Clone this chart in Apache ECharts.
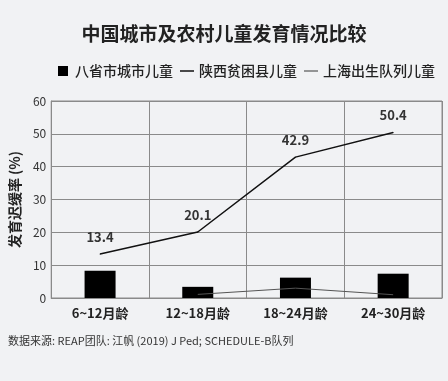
<!DOCTYPE html>
<html><head><meta charset="utf-8">
<script src="https://cdn.jsdelivr.net/npm/echarts@6/dist/echarts.min.js"></script>
<style>html,body{margin:0;padding:0;background:#f1f2f4;}#c{width:448px;height:381px;}</style>
</head><body><div id="c"></div>
<script>
var categories = ['6~12月龄', '12~18月龄', '18~24月龄', '24~30月龄'];
var urbanValues = [8.3, 3.4, 6.2, 7.4];
var shaanxiValues = [13.4, 20.1, 42.9, 50.4];
var shanghaiValues = ['-', 1.1, 3.0, 1.0];
var yTicks = {min: 0, max: 60, interval: 10};
var seriesNames = ['八省市城市儿童', '陕西贫困县儿童', '上海出生队列儿童'];

var FONT = '"Noto Sans CJK SC", "Noto Sans", sans-serif';
var chart = echarts.init(document.getElementById('c'), null, {renderer: 'canvas'});
chart.setOption({
  backgroundColor: '#f1f2f4',
  animation: false,
  textStyle: {fontFamily: FONT},
  title: {
    text: '中国城市及农村儿童发育情况比较',
    left: 'center', top: 19,
    textStyle: {fontSize: 19, fontWeight: 'bold', color: '#222', fontFamily: FONT}
  },
  legend: {
    top: 64, left: 58, width: 420, padding: 0,
    itemGap: 7, itemWidth: 14, itemHeight: 10,
    textStyle: {fontSize: 14, color: '#222', fontFamily: FONT, fontWeight: 500},
    data: [
      {name: seriesNames[0], icon: 'path://M0,0h10v10h-10z'},
      {name: seriesNames[1], icon: 'path://M0,0h14v1.5h-14z'},
      {name: seriesNames[2], icon: 'path://M0,0h14v1.2h-14z'}
    ]
  },
  grid: {left: 42, right: 6, top: 101, bottom: 83, show: true, borderColor: '#8a8a8a', borderWidth: 1, backgroundColor: 'transparent'},
  xAxis: {
    type: 'category', data: categories, boundaryGap: true,
    axisLine: {lineStyle: {color: '#8a8a8a'}},
    axisTick: {show: false},
    splitLine: {show: true, interval: 0, lineStyle: {color: '#8a8a8a'}},
    axisLabel: {fontSize: 13, fontWeight: 'bold', color: '#222', margin: 9, fontFamily: FONT, interval: 0}
  },
  yAxis: {
    type: 'value', min: yTicks.min, max: yTicks.max, interval: yTicks.interval,
    name: '发育迟缓率 (%)', nameLocation: 'middle', nameGap: 14, nameRotate: 90,
    nameTextStyle: {fontSize: 14, fontWeight: 'bold', color: '#222', fontFamily: FONT},
    axisLine: {show: true, lineStyle: {color: '#8a8a8a'}},
    axisTick: {show: false},
    splitLine: {lineStyle: {color: '#8a8a8a'}},
    axisLabel: {fontSize: 12, color: '#333', margin: 5, fontFamily: FONT}
  },
  series: [
    {name: seriesNames[0], type: 'bar', data: urbanValues, barWidth: 31, itemStyle: {color: '#000'}, z: 2},
    {name: seriesNames[1], type: 'line', data: shaanxiValues, symbol: 'circle', symbolSize: 1, showSymbol: true,
      lineStyle: {color: '#111', width: 1.5}, itemStyle: {color: '#111'}, z: 3,
      label: {show: true, position: 'top', distance: 10, fontSize: 13, fontWeight: 'bold', color: '#333', fontFamily: FONT}},
    {name: seriesNames[2], type: 'line', data: shanghaiValues, symbol: 'none',
      lineStyle: {color: '#555', width: 1}, itemStyle: {color: '#555'}, z: 4}
  ],
  graphic: [{
    type: 'text', left: 8, top: 335,
    style: {text: '数据来源: REAP团队: 江帆 (2019) J Ped; SCHEDULE-B队列', fontSize: 11, fill: '#333', fontFamily: FONT}
  }]
});
</script></body></html>
